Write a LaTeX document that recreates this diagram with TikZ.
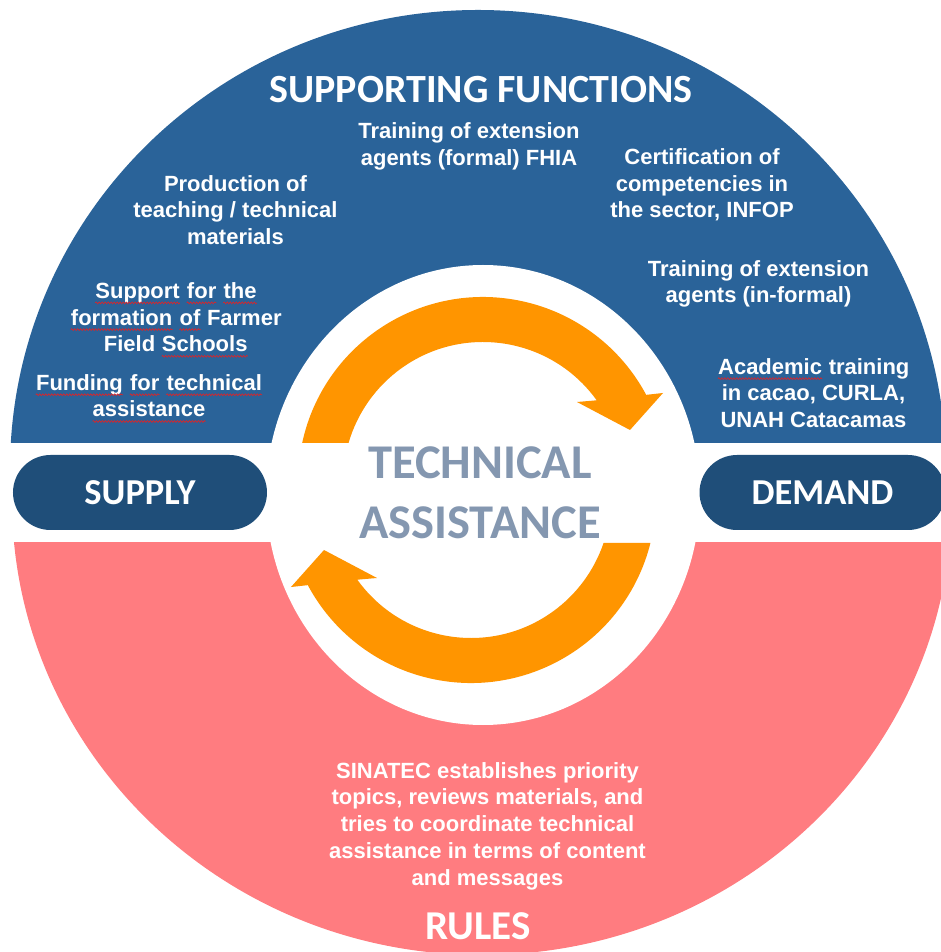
\documentclass[tikz,border=0pt]{standalone}
\usepackage{fontspec}
\setmainfont{Liberation Sans}
\newfontfamily\calibri{Carlito}
\usepackage{xcolor}
\usepackage{tikz}
\usetikzlibrary{decorations.pathmorphing}

\definecolor{sfblue}{HTML}{2A6399}
\definecolor{pillblue}{HTML}{1F4E79}
\definecolor{rulepink}{HTML}{FF7C80}
\definecolor{cycorange}{HTML}{FF9500}
\definecolor{tagray}{HTML}{8497B0}
\definecolor{spellred}{HTML}{D8262B}

% word with a red wavy underline
\newcommand\spell[1]{\tikz[baseline=0pt]{\node[inner sep=0pt,anchor=base west,text=white] (w) at (0,0) {#1};
  \draw[spellred,line width=0.7pt,decorate,decoration={snake,amplitude=0.9pt,segment length=3pt}]
  ([yshift=-4.5pt]w.base west) -- ([yshift=-4.5pt]w.base east);}}

\begin{document}
\begin{tikzpicture}
[x=1pt,y=1pt,
body/.style={text=white,align=center,inner sep=0pt,
  font=\bfseries\fontsize{22}{26.7}\selectfont},
heading/.style={text=white,inner sep=0pt,
  font=\calibri\bfseries\fontsize{40}{44}\selectfont},
pill/.style={fill=pillblue,rounded corners=37.5pt,minimum height=75pt,
  inner sep=0pt,text=white,font=\calibri\bfseries\fontsize{36.5}{40}\selectfont},
centre/.style={text=tagray,inner sep=0pt,
  font=\calibri\bfseries\fontsize{48.5}{52}\selectfont}]

\useasboundingbox (-477,-460) rectangle (464,492);

% upper and lower half rings
\begin{scope}
\clip (-480,49) rectangle (470,500);
\fill[sfblue] (1,22) ellipse [x radius=468, y radius=460];
\end{scope}
\begin{scope}
\clip (-480,-51) rectangle (470,-470);
\fill[rulepink] (5,-8) ellipse [x radius=470, y radius=455];
\end{scope}
\fill[white] (6,-3) ellipse [x radius=217, y radius=230];

% the two turning arrows
\begin{scope}[shift={(6,10)}]
\fill[cycorange] (167.8:185) arc [start angle=167.8, end angle=28.1, radius=185]
  -- (180,89) -- (147,52) -- (94,80) -- (35.7:140)
  arc [start angle=35.7, end angle=163.8, radius=140] -- cycle;
\end{scope}
\begin{scope}[shift={(-6,-6)}]
\fill[cycorange] (-14.08:185) arc [start angle=-14.08, end angle=-151.9, radius=185]
  -- (-180,-89) -- (-147,-52) -- (-94,-80) -- (-144.3:140)
  arc [start angle=-144.3, end angle=-18.75, radius=140] -- cycle;
\end{scope}

\node (sf) at (4,402) [heading] {SUPPORTING FUNCTIONS};
\node (tech) at (3,29) [centre] {TECHNICAL};
\node (assist) at (3,-30.5) [centre] {ASSISTANCE};
\node (supply) at (-337,-0.5) [pill,minimum width=254pt] {SUPPLY};
\node (demand) at (345.5,-0.5) [pill,minimum width=246pt] {DEMAND};
\node (rules) at (1,-434.5) [heading,font=\calibri\bfseries\fontsize{41}{44}\selectfont] {RULES};

\node (fhia) at (-8,345.5) [body] {Training of extension\\agents (formal) FHIA};
\node (materials) at (-241.5,282) [body] {Production of\\teaching / technical\\materials};
\node (infop) at (225,307) [body] {Certification of\\competencies in\\the sector, INFOP};
\node (informal) at (281.5,208) [body] {Training of extension\\agents (in-formal)};
\node (ffs) at (-301,172) [body] {\spell{Support} \spell{for} \spell{the}\\
  \spell{formation} \spell{of} Farmer\\Field \spell{Schools}};
\node (funding) at (-328,93.5) [body] {\spell{Funding} \spell{for} \spell{technical}\\
  \spell{assistance}};
\node (academic) at (336.5,99) [body] {\spell{Academic} training\\in cacao, CURLA,\\UNAH Catacamas};
\node (sinatec) at (10.5,-334) [body] {SINATEC establishes priority\\
  topics, reviews materials, and\\tries to coordinate technical\\
  assistance in terms of content\\and messages};

\end{tikzpicture}
\end{document}
